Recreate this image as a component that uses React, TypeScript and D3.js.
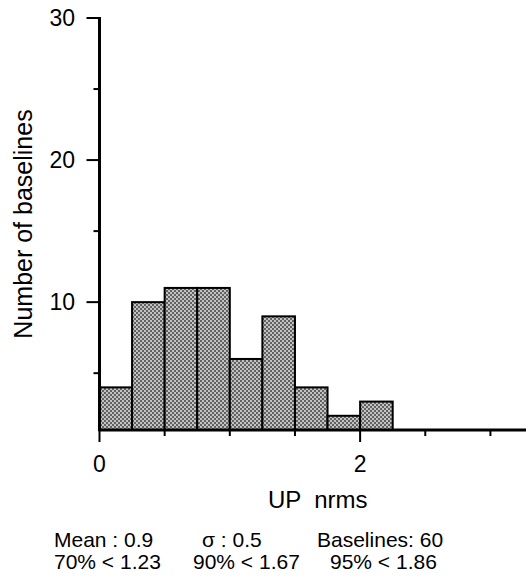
import React from "react";
import * as d3 from "d3";

const binStarts = [0, 0.25, 0.5, 0.75, 1.0, 1.25, 1.5, 1.75, 2.0];
const binWidth = 0.25;
const counts = [4, 10, 11, 11, 6, 9, 4, 2, 3];
const yMajorTicks = [10, 20, 30];
const yMinorTicks = [5, 15, 25];
const xMajorTicks = [0, 2];
const xMinorTicks = [0.5, 1, 1.5, 2.5, 3];
const xTitle = "UP  nrms";
const yTitle = "Number of baselines";
const statsLine1 = ["Mean : 0.9", "σ : 0.5", "Baselines: 60"];
const statsLine2 = ["70% < 1.23", "90% < 1.67", "95% < 1.86"];

const W = 526;
const H = 576;
const FONT = "'Liberation Sans', Arial, Helvetica, sans-serif";

export default function App() {
  const x = d3.scaleLinear().domain([0, 3.273]).range([99.5, 526]);
  const y = d3.scaleLinear().domain([1, 30]).range([430, 18]);
  const base = y(1);
  const x0 = x(0);

  const line1X = [54, 202, 317];
  const line2X = [54, 193, 330];

  return (
    <svg
      width={W}
      height={H}
      style={{ position: "absolute", left: 0, top: 0, background: "#fff" }}
      fontFamily={FONT}
    >
      <defs>
        <pattern id="stipple" width={4} height={4} patternUnits="userSpaceOnUse">
          <rect width={4} height={4} fill="#c2c2c2" />
          <rect x={0} y={0} width={2} height={2} fill="#626262" />
          <rect x={2} y={2} width={2} height={2} fill="#626262" />
        </pattern>
      </defs>

      {/* bars */}
      {binStarts.map((s, i) => (
        <rect
          key={i}
          x={x(s)}
          y={y(counts[i])}
          width={x(s + binWidth) - x(s)}
          height={base - y(counts[i])}
          fill="url(#stipple)"
          stroke="#000"
          strokeWidth={2}
        />
      ))}

      {/* y axis */}
      <line x1={x0} x2={x0} y1={y(30) - 1} y2={base + 1} stroke="#000" strokeWidth={3} />
      {yMajorTicks.map((t) => (
        <g key={"ym" + t}>
          <line x1={x0 - 13} x2={x0} y1={y(t)} y2={y(t)} stroke="#000" strokeWidth={2} />
          <text x={75} y={y(t) + 8} fontSize={23} textAnchor="end" fill="#000">
            {t}
          </text>
        </g>
      ))}
      {yMinorTicks.map((t) => (
        <line key={"yn" + t} x1={x0 - 6} x2={x0} y1={y(t)} y2={y(t)} stroke="#000" strokeWidth={2} />
      ))}

      {/* x axis */}
      <line x1={x0 - 1} x2={W} y1={base} y2={base} stroke="#000" strokeWidth={3} />
      {xMajorTicks.map((t) => (
        <g key={"xm" + t}>
          <line x1={x(t)} x2={x(t)} y1={base} y2={base + 12} stroke="#000" strokeWidth={2} />
          <text x={x(t)} y={472} fontSize={23} textAnchor="middle" fill="#000">
            {t}
          </text>
        </g>
      ))}
      {xMinorTicks.map((t) => (
        <line key={"xn" + t} x1={x(t)} x2={x(t)} y1={base} y2={base + 6} stroke="#000" strokeWidth={2} />
      ))}

      {/* titles */}
      <text x={268} y={508} fontSize={24} fill="#000" style={{ whiteSpace: "pre" }}>
        {xTitle}
      </text>
      <text
        transform={`translate(32, 224) rotate(-90)`}
        fontSize={25}
        textAnchor="middle"
        fill="#000"
      >
        {yTitle}
      </text>

      {/* stats */}
      {statsLine1.map((s, i) => (
        <text key={"s1" + i} x={line1X[i]} y={547} fontSize={21} fill="#000">
          {s}
        </text>
      ))}
      {statsLine2.map((s, i) => (
        <text key={"s2" + i} x={line2X[i]} y={569} fontSize={21} fill="#000">
          {s}
        </text>
      ))}
    </svg>
  );
}
